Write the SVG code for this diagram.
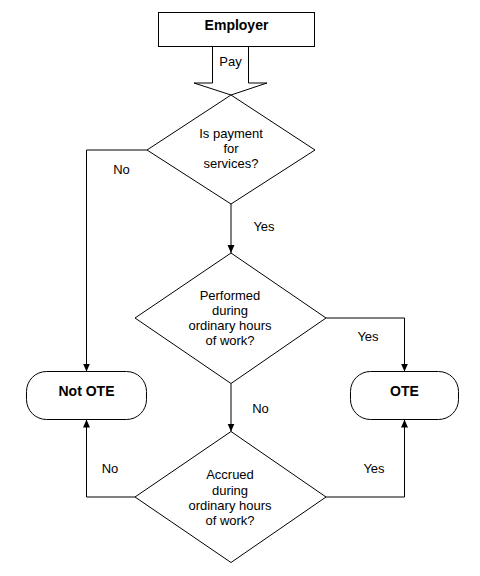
<svg xmlns="http://www.w3.org/2000/svg" width="480" height="576" viewBox="0 0 480 576">
<style>
.s{fill:#fff;stroke:#000;stroke-width:1}
.t{font-family:"Liberation Sans",Arial,sans-serif;font-size:13px;fill:#000;text-anchor:middle}
.b{font-family:"Liberation Sans",Arial,sans-serif;font-size:14px;font-weight:bold;fill:#000;text-anchor:middle}
.c{fill:none;stroke:#000;stroke-width:1}
</style>
<defs>
<marker id="ah" markerWidth="8" markerHeight="8" refX="8" refY="4" orient="auto" markerUnits="userSpaceOnUse">
<path d="M0,0.5 L8,4 L0,7.5 Z" fill="#000"/>
</marker>
</defs>
<rect width="480" height="576" fill="#fff"/>
<g id="connectors">
<polygon class="s" points="212.5,46.5 248.5,46.5 248.5,83 267,83 231,95 194,83 212.5,83"/>
<text class="t" x="230.5" y="66">Pay</text>
<polyline class="c" points="147,150 86.5,150 86.5,371.5" marker-end="url(#ah)"/>
<line class="c" x1="231" y1="204" x2="231" y2="253" marker-end="url(#ah)"/>
<polyline class="c" points="326,318 404.5,318 404.5,371.5" marker-end="url(#ah)"/>
<line class="c" x1="231" y1="383.5" x2="231" y2="431.5" marker-end="url(#ah)"/>
<polyline class="c" points="135,497 86.5,497 86.5,419.5" marker-end="url(#ah)"/>
<polyline class="c" points="326,497 404.5,497 404.5,419.5" marker-end="url(#ah)"/>
<text class="t" x="121.5" y="174">No</text>
<text class="t" x="264" y="231">Yes</text>
<text class="t" x="368" y="341">Yes</text>
<text class="t" x="260.5" y="413">No</text>
<text class="t" x="110" y="473">No</text>
<text class="t" x="374" y="473">Yes</text>
</g>
<g id="employer">
<rect class="s" x="158.5" y="12.5" width="156" height="34"/>
<text class="b" x="236.5" y="30">Employer</text>
</g>
<g id="d1">
<polygon class="s" points="231,95 315,150 231,204 147,150"/>
<text class="t" x="231" y="138">Is payment</text>
<text class="t" x="231" y="153">for</text>
<text class="t" x="231" y="168">services?</text>
</g>
<g id="d2">
<polygon class="s" points="231,253 326,318 231,383.5 135,318"/>
<text class="t" x="230" y="300">Performed</text>
<text class="t" x="230" y="315">during</text>
<text class="t" x="230" y="330">ordinary hours</text>
<text class="t" x="230" y="345">of work?</text>
</g>
<g id="d3">
<polygon class="s" points="231,431.5 326,497 231,562.5 135,497"/>
<text class="t" x="230" y="479">Accrued</text>
<text class="t" x="230" y="494.5">during</text>
<text class="t" x="230" y="510">ordinary hours</text>
<text class="t" x="230" y="525">of work?</text>
</g>
<g id="notote">
<rect class="s" x="26.5" y="371.5" width="120" height="48" rx="20" ry="20"/>
<text class="b" x="86.5" y="396">Not OTE</text>
</g>
<g id="ote">
<rect class="s" x="350.5" y="371.5" width="108" height="48" rx="20" ry="20"/>
<text class="b" x="404.5" y="396">OTE</text>
</g>
</svg>
